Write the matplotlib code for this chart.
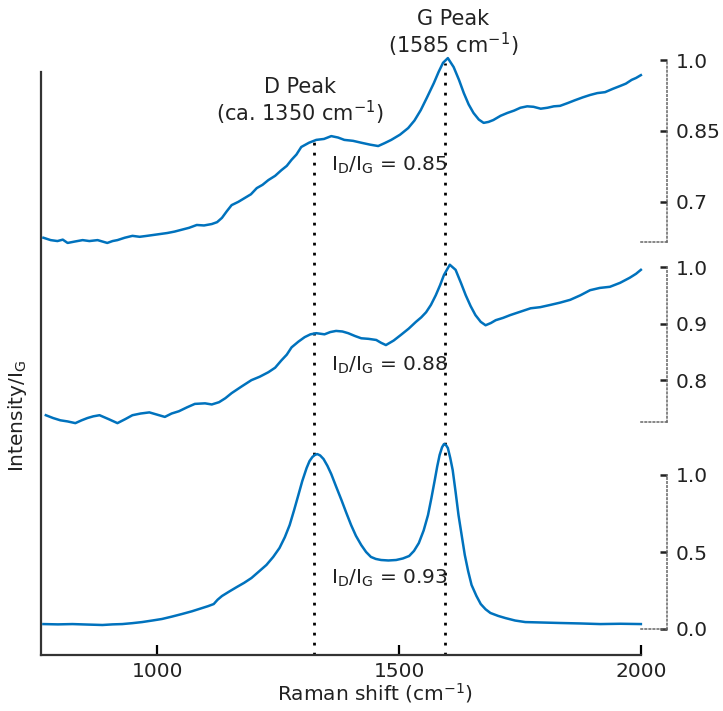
import matplotlib.pyplot as plt

# wavenumbers (cm-1) and intensity / I_G
top_x = [765, 780, 794, 805, 815, 830, 846, 860, 877, 887, 897, 908, 918, 933, 949,
         964, 979, 1000, 1021, 1036, 1051, 1066, 1082, 1097, 1113, 1124, 1134,
         1144, 1154, 1168, 1181, 1194, 1206, 1218, 1230, 1244, 1257, 1268, 1278,
         1288, 1298, 1314, 1329, 1345, 1360, 1374, 1387, 1405, 1422, 1440, 1457,
         1470, 1484, 1502, 1519, 1532, 1545, 1558, 1572, 1582, 1591, 1601, 1613,
         1624, 1634, 1644, 1654, 1665, 1675, 1685, 1695, 1710, 1724, 1738, 1751,
         1765, 1778, 1793, 1807, 1820, 1833, 1849, 1864, 1880, 1895, 1910, 1926,
         1942, 1957, 1969, 1981, 1990, 2000]
top_y = [0.624, 0.619, 0.617, 0.620, 0.613, 0.616, 0.619, 0.617, 0.619, 0.616,
         0.613, 0.617, 0.619, 0.624, 0.628, 0.626, 0.628, 0.631, 0.634, 0.637,
         0.641, 0.645, 0.651, 0.650, 0.653, 0.657, 0.666, 0.680, 0.693, 0.700,
         0.708, 0.716, 0.729, 0.736, 0.746, 0.755, 0.767, 0.776, 0.789, 0.800,
         0.816, 0.825, 0.831, 0.833, 0.839, 0.836, 0.831, 0.829, 0.825, 0.821,
         0.818, 0.824, 0.831, 0.842, 0.856, 0.872, 0.894, 0.921, 0.951, 0.975,
         0.994, 1.004, 0.985, 0.958, 0.930, 0.906, 0.888, 0.874, 0.867, 0.869,
         0.873, 0.882, 0.888, 0.893, 0.899, 0.902, 0.901, 0.897, 0.899, 0.902,
         0.903, 0.909, 0.915, 0.921, 0.926, 0.930, 0.932, 0.939, 0.945, 0.950,
         0.958, 0.962, 0.968]

mid_x = [770, 785, 800, 815, 831, 844, 856, 868, 881, 900, 918, 934, 949, 966, 984,
         1000, 1016, 1030, 1045, 1062, 1078, 1099, 1113, 1128, 1141, 1154, 1175,
         1195, 1212, 1230, 1244, 1257, 1268, 1278, 1292, 1305, 1317, 1329, 1346,
         1358, 1370, 1383, 1395, 1409, 1422, 1437, 1453, 1463, 1473, 1489, 1504,
         1520, 1535, 1546, 1556, 1566, 1576, 1585, 1593, 1605, 1617, 1628, 1638,
         1648, 1658, 1669, 1679, 1690, 1700, 1715, 1730, 1751, 1772, 1792, 1813,
         1833, 1854, 1875, 1895, 1915, 1936, 1957, 1977, 1990, 2000]
mid_y = [0.738, 0.733, 0.729, 0.727, 0.724, 0.729, 0.733, 0.736, 0.738, 0.731,
         0.724, 0.731, 0.738, 0.741, 0.743, 0.739, 0.735, 0.741, 0.745, 0.752,
         0.758, 0.759, 0.757, 0.761, 0.768, 0.777, 0.789, 0.800, 0.806, 0.814,
         0.822, 0.835, 0.845, 0.858, 0.868, 0.876, 0.881, 0.883, 0.881, 0.885,
         0.887, 0.886, 0.883, 0.878, 0.874, 0.873, 0.871, 0.866, 0.862, 0.870,
         0.880, 0.891, 0.903, 0.911, 0.920, 0.933, 0.950, 0.968, 0.986, 1.004,
         0.995, 0.972, 0.950, 0.931, 0.915, 0.903, 0.897, 0.901, 0.906, 0.910,
         0.915, 0.921, 0.927, 0.929, 0.933, 0.937, 0.942, 0.950, 0.959, 0.963,
         0.965, 0.972, 0.981, 0.988, 0.995]

bot_x = [765, 795, 825, 855, 887, 908, 928, 949, 969, 990, 1010, 1030, 1051, 1072,
         1093, 1105, 1117, 1125, 1134, 1150, 1165, 1180, 1195, 1210, 1226, 1240,
         1253, 1264, 1274, 1283, 1292, 1300, 1309, 1315, 1321, 1326, 1331, 1337,
         1344, 1352, 1360, 1370, 1381, 1391, 1401, 1411, 1422, 1432, 1442, 1452,
         1463, 1478, 1494, 1508, 1521, 1531, 1541, 1551, 1560, 1567, 1574, 1579,
         1584, 1589, 1593, 1597, 1601, 1606, 1611, 1617, 1623, 1630, 1636, 1643,
         1650, 1660, 1669, 1679, 1689, 1705, 1720, 1740, 1761, 1797, 1833, 1875,
         1916, 1958, 2000]
bot_y = [0.032, 0.030, 0.032, 0.029, 0.026, 0.030, 0.032, 0.038, 0.045, 0.055,
         0.065, 0.080, 0.097, 0.115, 0.136, 0.148, 0.162, 0.190, 0.214, 0.245,
         0.273, 0.300, 0.331, 0.372, 0.416, 0.468, 0.526, 0.596, 0.675, 0.770,
         0.870, 0.960, 1.045, 1.090, 1.117, 1.130, 1.136, 1.127, 1.104, 1.060,
         1.006, 0.925, 0.838, 0.755, 0.675, 0.605, 0.545, 0.500, 0.468, 0.455,
         0.448, 0.445, 0.448, 0.458, 0.474, 0.507, 0.558, 0.640, 0.740, 0.850,
         0.968, 1.055, 1.130, 1.180, 1.201, 1.195, 1.175, 1.110, 1.032, 0.890,
         0.740, 0.600, 0.481, 0.375, 0.286, 0.215, 0.162, 0.128, 0.104, 0.085,
         0.071, 0.055, 0.045, 0.042, 0.039, 0.036, 0.032, 0.034, 0.032]

ratios = ['0.85', '0.88', '0.93']
top_ticks = [0.7, 0.85, 1.0]
mid_ticks = [0.8, 0.9, 1.0]
bot_ticks = [0.0, 0.5, 1.0]
x_ticks = [1000, 1500, 2000]
d_peak = 1325
g_peak = 1594

W, H = 723, 711
BLUE = '#0072BD'
TXT = '#222222'
FS = 14.5


def px_box(x0, y0, x1, y1):
    return [x0 / W, 1 - y1 / H, (x1 - x0) / W, (y1 - y0) / H]


def add_panel(fig, box, xs, ys, ylim, ticks):
    ax = fig.add_axes(box)
    ax.patch.set_alpha(0)
    ax.plot(xs, ys, color=BLUE, lw=1.8, clip_on=False)
    ax.set_xlim(760, 2054)
    ax.set_ylim(*ylim)
    ax.spines['top'].set_visible(False)
    ax.spines['left'].set_visible(False)
    for side in ['right', 'bottom']:
        ax.spines[side].set_linestyle(':')
        ax.spines[side].set_color('#666666')
        ax.spines[side].set_linewidth(1.1)
    ax.spines['bottom'].set_bounds(2000, 2054)
    ax.set_xticks([])
    ax.yaxis.tick_right()
    ax.set_yticks(ticks)
    ax.set_yticklabels([f'{t:g}' if t not in (0.0, 1.0) else f'{t:.1f}' for t in ticks])
    ax.tick_params(axis='y', direction='in', length=5, width=1.8, pad=6,
                   labelsize=FS, labelcolor=TXT, color='#222222')
    return ax


fig = plt.figure(figsize=(W / 100, H / 100), dpi=100)

main = fig.add_axes(px_box(41, 72, 641, 655))
main.set_xlim(760, 2000)
main.set_ylim(0, 1)
for side in ['top', 'right']:
    main.spines[side].set_visible(False)
for side in ['left', 'bottom']:
    main.spines[side].set_linewidth(1.6)
    main.spines[side].set_color('#333333')
main.set_yticks([])
main.set_xticks(x_ticks)
main.tick_params(axis='x', direction='in', length=7, width=1.6, labelsize=FS,
                 labelcolor=TXT, pad=5)
main.axvline(d_peak, ymin=0.0, ymax=0.883, color='k', lw=2, ls=(0, (1, 2.6)))
main.axvline(g_peak, ymin=0.0, ymax=1.015, color='k', lw=2, ls=(0, (1, 2.6)),
             clip_on=False)
main.set_xlabel(r'Raman shift (cm$\mathregular{^{-1}}$)', fontsize=FS, color=TXT,
                va='center')
main.xaxis.set_label_coords(0.557, -0.066)

add_panel(fig, px_box(41, 60, 667, 242), top_x, top_y, (0.615, 1.0), top_ticks)
add_panel(fig, px_box(41, 267, 667, 422), mid_x, mid_y, (0.726, 1.0), mid_ticks)
add_panel(fig, px_box(41, 475, 667, 629), bot_x, bot_y, (0.0, 1.0), bot_ticks)

fig.text(18 / W, 1 - 416 / H, r'Intensity/$\mathregular{I_G}$', rotation=90,
         ha='center', va='center', fontsize=FS, color=TXT)

fig.text(300 / W, 1 - 102 / H, 'D Peak\n' + r'(ca. 1350 cm$\mathregular{^{-1}}$)',
         ha='center', va='center', fontsize=15, color=TXT, linespacing=1.05)
fig.text(453 / W, 1 - 34 / H, 'G Peak\n' + r'(1585 cm$\mathregular{^{-1}}$)',
         ha='center', va='center', fontsize=15, color=TXT, linespacing=1.05)

for r, y in zip(ratios, [165, 365, 578]):
    fig.text(331 / W, 1 - y / H, r'$\mathregular{I_D/I_G}$ = ' + r,
             ha='left', va='center', fontsize=FS, color=TXT)

fig.savefig('out.png', dpi=100)
